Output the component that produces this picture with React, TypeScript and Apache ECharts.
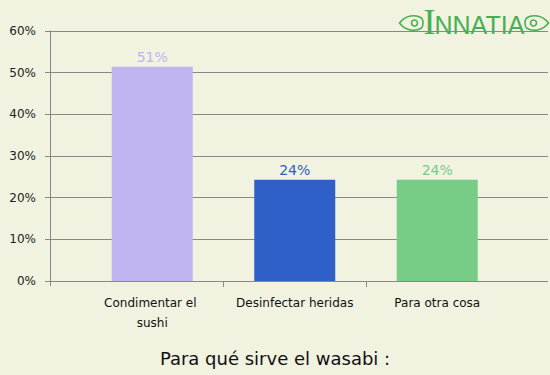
import React, { useEffect, useRef } from "react";
import * as echarts from "echarts";

const categories = ["Condimentar el sushi", "Desinfectar heridas", "Para otra cosa"];
const values = [51.4, 24.3, 24.3];
const barColors = ["#c0b4f0", "#2f60c8", "#77cc88"];
const yTicks = { min: 0, max: 60, interval: 10 };
const title = "Para qué sirve el wasabi :";

const FONT = "'DejaVu Sans', Verdana, sans-serif";
const LOGO_GREEN = "#45b04f";
const SLOT = 142.5;

echarts.graphic.registerShape(
  "leafLeft",
  echarts.graphic.extendPath("M0 8 C6 0 16 -1 22 3 C24 5 24 11 22 13 C16 17 6 16 0 8 Z", {})
);
echarts.graphic.registerShape(
  "leafRight",
  echarts.graphic.extendPath("M22 8 C16 0 6 -1 0 3 C-2 5 -2 11 0 13 C6 17 16 16 22 8 Z", {})
);

export default function App() {
  const ref = useRef<HTMLDivElement>(null);
  useEffect(() => {
    document.body.style.margin = "0";
    const chart = echarts.init(ref.current!, null, { renderer: "svg" });
    chart.setOption({
      animation: false,
      backgroundColor: "#f2f2e1",
      title: {
        text: title,
        left: "center",
        top: 344,
        textStyle: { fontFamily: FONT, fontSize: 18, fontWeight: "normal", color: "#111" },
      },
      grid: [
        { left: 50, right: 2, top: 31, bottom: 94, outerBoundsMode: "none" },
        {
          left: 81,
          width: SLOT * (categories.length + 1),
          top: 31,
          bottom: 94,
          outerBoundsMode: "none",
        },
      ],
      xAxis: [
        {
          type: "value",
          gridIndex: 0,
          min: 0,
          max: 1,
          interval: 1,
          axisLine: { show: false },
          axisTick: { show: true, length: 5, customValues: [0], lineStyle: { color: "#888" } },
          axisLabel: { show: false },
          splitLine: { show: false },
        },
        {
          type: "category",
          gridIndex: 1,
          data: [...categories, ""],
          axisLine: { show: false },
          axisTick: {
            show: true,
            length: 6,
            interval: (i: number) => i === 1 || i === 2,
            lineStyle: { color: "#888" },
          },
          axisLabel: {
            fontFamily: FONT,
            fontSize: 12,
            color: "#111",
            margin: 12,
            width: 122,
            overflow: "break",
            lineHeight: 20,
            interval: 0,
          },
        },
      ],
      yAxis: [
        {
          type: "value",
          gridIndex: 0,
          min: yTicks.min,
          max: yTicks.max,
          interval: yTicks.interval,
          axisLine: { show: true, lineStyle: { color: "#888", width: 1 } },
          axisTick: { show: true, length: 5, lineStyle: { color: "#888" } },
          axisLabel: { formatter: "{value}%", fontFamily: FONT, fontSize: 12, color: "#222", margin: 14 },
          splitLine: { show: true, lineStyle: { color: "#888", width: 1 } },
        },
        {
          type: "value",
          gridIndex: 1,
          min: yTicks.min,
          max: yTicks.max,
          interval: yTicks.interval,
          show: false,
          splitLine: { show: false },
        },
      ],
      series: [
        {
          type: "bar",
          xAxisIndex: 1,
          yAxisIndex: 1,
          barWidth: 81,
          data: values.map((v, i) => ({
            value: v,
            itemStyle: { color: barColors[i] },
            label: { color: barColors[i] },
          })),
          label: {
            show: true,
            position: "top",
            distance: 3,
            fontFamily: FONT,
            fontSize: 14,
            formatter: (p: any) => `${Math.round(p.value)}%`,
          },
        },
      ],
      graphic: [
        {
          type: "group",
          left: 397,
          top: 4,
          children: [
            {
              type: "leafLeft",
              x: 0,
              y: 12,
              style: { fill: "none", stroke: LOGO_GREEN, lineWidth: 1.6 },
            },
            {
              type: "circle",
              shape: { cx: 15, cy: 20, r: 3 },
              style: { fill: "none", stroke: LOGO_GREEN, lineWidth: 1.6 },
            },
            {
              type: "text",
              x: 24,
              y: 1,
              style: { text: "I", fontSize: 36, fill: LOGO_GREEN, fontFamily: "'Liberation Serif', serif" },
            },
            {
              type: "text",
              x: 35,
              y: 9,
              style: {
                text: "NNATIA",
                fontSize: 25,
                fill: LOGO_GREEN,
                fontFamily: "'Liberation Sans', sans-serif",
              },
            },
            {
              type: "leafRight",
              x: 127,
              y: 12,
              style: { fill: "none", stroke: LOGO_GREEN, lineWidth: 1.6 },
            },
            {
              type: "circle",
              shape: { cx: 134, cy: 20, r: 3 },
              style: { fill: "none", stroke: LOGO_GREEN, lineWidth: 1.6 },
            },
          ],
        },
      ],
    });
    return () => chart.dispose();
  }, []);
  return <div ref={ref} style={{ width: 550, height: 375 }} />;
}
